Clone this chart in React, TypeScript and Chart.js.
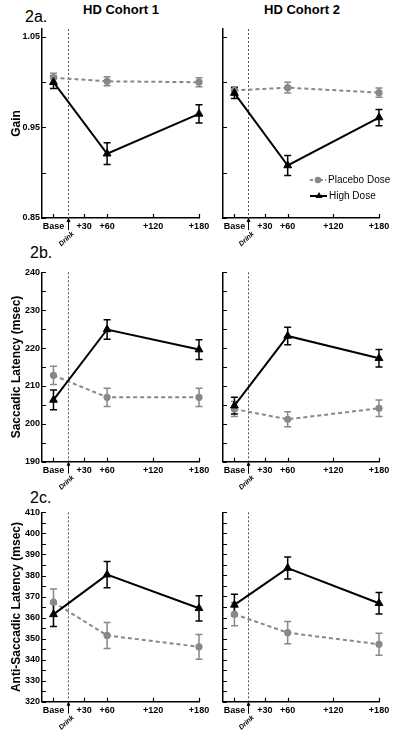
import React, { useEffect, useRef } from 'react';
import { Chart, registerables } from 'chart.js';

Chart.register(...registerables);

const FONT = '"Liberation Sans", Arial, Helvetica, sans-serif';
const GRAY = '#888888';

// x axis (minutes relative to drink)
const timePoints = [-10, 60, 180];
const xTickValues = [-10, 30, 60, 120, 180];
const xTickLabels = ['Base', '+30', '+60', '+120', '+180'];
const drinkTime = 8.5;
const xMin = -25;
const xMax = 180;

// y ticks
const gainTicks = [0.85, 0.9, 0.95, 1.0, 1.05];
const gainLabelled = [0.85, 0.95, 1.05];
const saccTicks = [190, 195, 200, 205, 210, 215, 220, 225, 230, 235, 240];
const saccLabelled = [190, 200, 210, 220, 230, 240];
const antiTicks = [320, 325, 330, 335, 340, 345, 350, 355, 360, 365, 370, 375, 380, 385, 390, 395, 400, 405, 410];
const antiLabelled = [320, 330, 340, 350, 360, 370, 380, 390, 400, 410];

// 2a Gain
const gainHigh1 = [1.0, 0.921, 0.965];
const gainHighErr1 = [0.007, 0.012, 0.01];
const gainPlac1 = [1.005, 1.001, 1.0];
const gainPlacErr1 = [0.005, 0.005, 0.005];
const gainHigh2 = [0.988, 0.908, 0.961];
const gainHighErr2 = [0.006, 0.011, 0.009];
const gainPlac2 = [0.991, 0.994, 0.9885];
const gainPlacErr2 = [0.004, 0.006, 0.005];

// 2b Saccadic latency
const saccHigh1 = [206.3, 224.9, 219.6];
const saccHighErr1 = [2.6, 2.6, 2.6];
const saccPlac1 = [212.8, 207.0, 207.0];
const saccPlacErr1 = [2.4, 2.4, 2.4];
const saccHigh2 = [204.8, 223.2, 217.3];
const saccHighErr2 = [2.2, 2.3, 2.3];
const saccPlac2 = [203.9, 201.2, 204.1];
const saccPlacErr2 = [2.0, 2.0, 2.2];

// 2c Anti-saccadic latency
const antiHigh1 = [361.5, 380.4, 364.4];
const antiHighErr1 = [5.7, 6.2, 6.0];
const antiPlac1 = [367.3, 351.5, 346.1];
const antiPlacErr1 = [6.3, 6.2, 5.9];
const antiHigh2 = [366.0, 383.5, 366.8];
const antiHighErr2 = [5.1, 5.2, 5.1];
const antiPlac2 = [361.6, 352.8, 347.3];
const antiPlacErr2 = [5.5, 5.3, 5.2];

type PanelProps = {
  left: number; top: number; width: number; height: number;
  areaLeft: number; areaRight: number; areaTop: number; areaBottom: number;
  yMin: number; yMax: number; yTicks: number[]; yLabelled: number[]; decimals: number;
  yTitle?: string; showLabels: boolean; legend?: boolean;
  high: number[]; highErr: number[]; plac: number[]; placErr: number[];
};

function drawTriangle(ctx: CanvasRenderingContext2D, cx: number, cy: number, r: number) {
  ctx.beginPath();
  ctx.moveTo(cx, cy - r);
  ctx.lineTo(cx + r * 0.87, cy + r * 0.5);
  ctx.lineTo(cx - r * 0.87, cy + r * 0.5);
  ctx.closePath();
  ctx.fill();
}

function Panel(p: PanelProps) {
  const ref = useRef<HTMLCanvasElement>(null);
  useEffect(() => {
    const canvas = ref.current!;
    const overlay = {
      id: 'overlay',
      beforeDatasetsDraw(chart: any) {
        const ctx = chart.ctx as CanvasRenderingContext2D;
        const xs = chart.scales.x;
        const ys = chart.scales.y;
        const ca = chart.chartArea;
        ctx.save();
        // drink line
        ctx.strokeStyle = '#555';
        ctx.lineWidth = 1;
        ctx.setLineDash([2, 2]);
        const dx = Math.round(xs.getPixelForValue(drinkTime)) + 0.5;
        ctx.beginPath();
        ctx.moveTo(dx, ca.top);
        ctx.lineTo(dx, ca.bottom);
        ctx.stroke();
        ctx.setLineDash([]);
        // error bars
        const sets = [
          { vals: p.plac, errs: p.placErr, color: GRAY },
          { vals: p.high, errs: p.highErr, color: '#000' },
        ];
        sets.forEach((s) => {
          ctx.strokeStyle = s.color;
          ctx.lineWidth = 1.5;
          timePoints.forEach((t, i) => {
            const px = xs.getPixelForValue(t);
            const y1 = ys.getPixelForValue(s.vals[i] + s.errs[i]);
            const y2 = ys.getPixelForValue(s.vals[i] - s.errs[i]);
            ctx.beginPath();
            ctx.moveTo(px, y1); ctx.lineTo(px, y2);
            ctx.moveTo(px - 3.5, y1); ctx.lineTo(px + 3.5, y1);
            ctx.moveTo(px - 3.5, y2); ctx.lineTo(px + 3.5, y2);
            ctx.stroke();
          });
        });
        ctx.restore();
      },
      afterDraw(chart: any) {
        const ctx = chart.ctx as CanvasRenderingContext2D;
        const xs = chart.scales.x;
        const ys = chart.scales.y;
        const ca = chart.chartArea;
        ctx.save();
        // inward ticks
        ctx.strokeStyle = '#000';
        ctx.lineWidth = 1.2;
        ctx.beginPath();
        p.yTicks.forEach((v) => {
          const py = Math.round(ys.getPixelForValue(v)) + 0.5;
          ctx.moveTo(ca.left, py); ctx.lineTo(ca.left + 4, py);
        });
        xTickValues.forEach((v) => {
          const px = Math.round(xs.getPixelForValue(v)) + 0.5;
          ctx.moveTo(px, ca.bottom); ctx.lineTo(px, ca.bottom - 4);
        });
        ctx.stroke();
        // drink arrow
        const dx = Math.round(xs.getPixelForValue(drinkTime)) + 0.5;
        ctx.fillStyle = '#000';
        ctx.beginPath();
        ctx.moveTo(dx, ca.bottom - 0.5);
        ctx.lineTo(dx + 2, ca.bottom + 4);
        ctx.lineTo(dx - 2, ca.bottom + 4);
        ctx.closePath();
        ctx.fill();
        ctx.lineWidth = 1;
        ctx.beginPath();
        ctx.moveTo(dx, ca.bottom + 3);
        ctx.lineTo(dx, ca.bottom + 12);
        ctx.stroke();
        ctx.save();
        ctx.translate(dx - 2, ca.bottom + 21);
        ctx.rotate(-Math.PI / 4.3);
        ctx.font = `italic bold 7px ${FONT}`;
        ctx.textAlign = 'center';
        ctx.textBaseline = 'middle';
        ctx.fillText('Drink', 0, 0);
        ctx.restore();
        // legend
        if (p.legend) {
          const lx = ca.left + 87;
          const ly1 = ca.top + 151;
          const ly2 = ly1 + 16;
          ctx.lineWidth = 2;
          ctx.strokeStyle = GRAY;
          ctx.setLineDash([3, 2]);
          ctx.beginPath(); ctx.moveTo(lx, ly1); ctx.lineTo(lx + 16, ly1); ctx.stroke();
          ctx.setLineDash([]);
          ctx.fillStyle = GRAY;
          ctx.beginPath(); ctx.arc(lx + 8, ly1, 3.3, 0, Math.PI * 2); ctx.fill();
          ctx.strokeStyle = '#000';
          ctx.beginPath(); ctx.moveTo(lx, ly2); ctx.lineTo(lx + 17, ly2); ctx.stroke();
          ctx.fillStyle = '#000';
          drawTriangle(ctx, lx + 9, ly2, 4);
          ctx.font = `10px ${FONT}`;
          ctx.textAlign = 'left';
          ctx.textBaseline = 'middle';
          ctx.fillText('Placebo Dose', lx + 18, ly1);
          ctx.fillText('High Dose', lx + 19, ly2);
        }
        ctx.restore();
      },
    };

    const chart = new Chart(canvas, {
      type: 'line',
      data: {
        datasets: [
          {
            label: 'High Dose',
            data: timePoints.map((t, i) => ({ x: t, y: p.high[i] })),
            borderColor: '#000', backgroundColor: '#000', borderWidth: 2,
            pointStyle: 'triangle', pointRadius: 4.5, pointBorderWidth: 1,
            pointBackgroundColor: '#000', pointBorderColor: '#000',
            tension: 0, clip: false as any,
          },
          {
            label: 'Placebo Dose',
            data: timePoints.map((t, i) => ({ x: t, y: p.plac[i] })),
            borderColor: GRAY, backgroundColor: GRAY, borderWidth: 2, borderDash: [4, 3],
            pointStyle: 'circle', pointRadius: 3.6, pointBorderWidth: 0,
            pointBackgroundColor: GRAY, pointBorderColor: GRAY,
            tension: 0, clip: false as any,
          },
        ],
      },
      options: {
        animation: false,
        responsive: false,
        devicePixelRatio: 1,
        events: [],
        layout: { padding: { left: 0, right: p.left + p.width - p.areaRight, top: p.areaTop - p.top, bottom: 0 } },
        plugins: { legend: { display: false }, tooltip: { enabled: false }, title: { display: false } },
        scales: {
          x: {
            type: 'linear', min: xMin, max: xMax,
            afterBuildTicks: (s: any) => { s.ticks = xTickValues.map((v) => ({ value: v })); },
            afterFit: (s: any) => { s.height = p.top + p.height - p.areaBottom; },
            grid: { display: false, drawTicks: false },
            border: { display: true, color: '#000', width: 1.5 },
            ticks: {
              autoSkip: false, maxRotation: 0, minRotation: 0, padding: 3, color: '#000',
              font: { family: FONT, size: 9, weight: 'bold' },
              callback: (v: any) => { const i = xTickValues.indexOf(Number(v)); return i >= 0 ? xTickLabels[i] : ''; },
            },
          },
          y: {
            type: 'linear', min: p.yMin, max: p.yMax,
            afterBuildTicks: (s: any) => { s.ticks = p.yTicks.map((v) => ({ value: v })); },
            afterFit: (s: any) => { s.width = p.areaLeft - p.left; },
            grid: { display: false, drawTicks: false },
            border: { display: true, color: '#000', width: 1.5 },
            ticks: {
              display: p.showLabels, autoSkip: false, padding: 2, color: '#000',
              font: { family: FONT, size: 9, weight: 'bold' },
              callback: (v: any) => (p.yLabelled.includes(Number(v)) ? Number(v).toFixed(p.decimals) : ''),
            },
            title: {
              display: !!p.yTitle, text: p.yTitle || '', color: '#000',
              font: { family: FONT, size: 12, weight: 'bold' },
              padding: { top: 9, bottom: 0 },
            },
          },
        },
      } as any,
      plugins: [overlay],
    });
    return () => chart.destroy();
  }, []);
  return (
    <canvas
      ref={ref}
      width={p.width}
      height={p.height}
      style={{ position: 'absolute', left: p.left, top: p.top, width: p.width, height: p.height }}
    />
  );
}

const leftCol = { left: 0, width: 215, areaLeft: 42, areaRight: 199 };
const rightCol = { left: 205, width: 195, areaLeft: 223, areaRight: 379 };
const rowA = { top: 20, height: 232, areaTop: 29, areaBottom: 218, yMin: 0.85, yMax: 1.0588, yTicks: gainTicks, yLabelled: gainLabelled, decimals: 2 };
const rowB = { top: 262, height: 236, areaTop: 272.3, areaBottom: 461.7, yMin: 190, yMax: 240, yTicks: saccTicks, yLabelled: saccLabelled, decimals: 0 };
const rowC = { top: 505, height: 236, areaTop: 512.3, areaBottom: 701.7, yMin: 320, yMax: 410, yTicks: antiTicks, yLabelled: antiLabelled, decimals: 0 };

const labelStyle: React.CSSProperties = { position: 'absolute', fontSize: 16, lineHeight: '16px', fontFamily: FONT, color: '#000', whiteSpace: 'nowrap' };
const headStyle: React.CSSProperties = { position: 'absolute', fontSize: 13, lineHeight: '13px', fontWeight: 'bold', fontFamily: FONT, color: '#000', whiteSpace: 'nowrap', width: 160, textAlign: 'center' };

export default function App() {
  return (
    <div style={{ position: 'fixed', left: 0, top: 0, width: 400, height: 741, background: '#fff', overflow: 'hidden' }}>
      <div style={{ ...headStyle, left: 121 - 80, top: 3 }}>HD Cohort 1</div>
      <div style={{ ...headStyle, left: 302 - 80, top: 3 }}>HD Cohort 2</div>
      <div style={{ ...labelStyle, left: 25, top: 8.5 }}>2a.</div>
      <div style={{ ...labelStyle, left: 30, top: 245 }}>2b.</div>
      <div style={{ ...labelStyle, left: 30, top: 489.5 }}>2c.</div>

      <Panel {...leftCol} {...rowA} yTitle="Gain" showLabels high={gainHigh1} highErr={gainHighErr1} plac={gainPlac1} placErr={gainPlacErr1} />
      <Panel {...rightCol} {...rowA} showLabels={false} legend high={gainHigh2} highErr={gainHighErr2} plac={gainPlac2} placErr={gainPlacErr2} />
      <Panel {...leftCol} {...rowB} yTitle="Saccadic Latency (msec)" showLabels high={saccHigh1} highErr={saccHighErr1} plac={saccPlac1} placErr={saccPlacErr1} />
      <Panel {...rightCol} {...rowB} showLabels={false} high={saccHigh2} highErr={saccHighErr2} plac={saccPlac2} placErr={saccPlacErr2} />
      <Panel {...leftCol} {...rowC} yTitle="Anti-Saccadic Latency (msec)" showLabels high={antiHigh1} highErr={antiHighErr1} plac={antiPlac1} placErr={antiPlacErr1} />
      <Panel {...rightCol} {...rowC} showLabels={false} high={antiHigh2} highErr={antiHighErr2} plac={antiPlac2} placErr={antiPlacErr2} />
    </div>
  );
}
